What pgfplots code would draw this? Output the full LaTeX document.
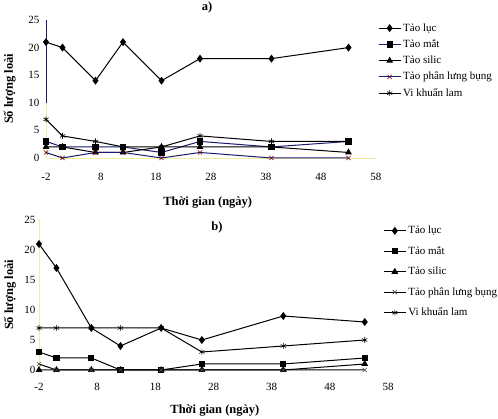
\documentclass[border=0pt]{standalone}
\usepackage{fontspec}
\setmainfont{Liberation Serif}
\usepackage{pgfplots}
\pgfplotsset{compat=1.18}
\usepackage{pgfplotstable}

\definecolor{navy}{HTML}{1A1A6E}
\definecolor{paleyel}{HTML}{F2EBA0}

% days, then number of species per group
\pgfplotstableread{
day  luc mat silic phan lam
-2   21  3   2     1    7
1    20  2   2     0    4
7    14  2   1     1    3
12   21  2   1     1    2
19   14  1   2     0    2
26   18  3   2     1    4
39   18  2   2     0    3
53   20  3   1     0    3
}\dataA

\pgfplotstableread{
day  luc mat silic phan lam
-2   21  3   0     1    7
1    17  2   0     0    7
7    7   2   0     0    7
12   4   0   0     0    7
19   7   0   0     0    7
26   5   1   0     0    3
40   9   1   0     0    4
54   8   2   1     0    5
}\dataB

\pgfplotsset{
  panel/.style={
    scale only axis, anchor=south west, clip=false,
    xmin=-2, xmax=58, ymin=0, ymax=25,
    xtick={-2,8,...,58}, ytick={0,5,...,25},
    axis lines=left, axis line style={-},
    major tick length=0pt,
    font=\fontsize{11}{13}\selectfont,
    /pgf/number format/assume math mode=true,
    ylabel={\textbf{Số lượng loài}},
    xlabel={\textbf{Thời gian (ngày)}},
    label style={font=\bfseries\fontsize{12.5}{14}\selectfont},
    every axis plot/.append style={line width=1pt, black},
    legend cell align=left,
    legend image code/.code={
      \draw[mark repeat=2,mark phase=2,##1] plot coordinates {(0pt,0pt) (11pt,0pt) (22pt,0pt)};},
  },
  mluc/.style={mark=diamond*, mark size=3.2pt},
  mmat/.style={mark=square*, mark size=2.6pt},
  msil/.style={mark=triangle*, mark size=3pt},
  mphan/.style={mark=x, mark size=3pt, mark options={line width=0.6pt}},
  mlam/.style={mark=asterisk, mark size=3pt, mark options={line width=0.6pt}},
}

\begin{document}
\begin{tikzpicture}
\useasboundingbox (0,0) rectangle (498pt,419pt);

% panel a
\begin{axis}[panel,
  at={(46pt,261pt)}, width=330pt, height=138pt,
  x axis line style={paleyel},
  y axis line style={draw=none},
  xticklabel style={yshift=-12pt},
  yticklabel style={xshift=-3pt},
  ylabel style={at={(axis description cs:-0.11,0.5)}, anchor=center},
  xlabel style={at={(axis description cs:0.49,-0.326)}, anchor=center},
  legend style={draw=none, fill=none, at={(axis description cs:1.006,0.99)},
    anchor=north west, inner sep=0pt, row sep=3pt},
]
\draw[paleyel, line width=0.8pt] (axis cs:-2,0) -- (axis cs:-2,10);
\draw[navy, line width=0.8pt] (axis cs:-2,10) -- (axis cs:-2,25);
\addplot[mluc] table[x=day,y=luc] {\dataA};
\addplot[mmat, draw=navy, mark options={fill=black, draw=black}] table[x=day,y=mat] {\dataA};
\addplot[msil] table[x=day,y=silic] {\dataA};
\addplot[mphan, draw=navy, mark options={draw=black!60!red, line width=0.6pt}] table[x=day,y=phan] {\dataA};
\addplot[mlam] table[x=day,y=lam] {\dataA};
\legend{Tảo lục, Tảo mắt, Tảo silic, Tảo phân lưng bụng, Vi khuẩn lam}
\node[font=\bfseries\fontsize{12.5}{14}\selectfont] at (axis description cs:0.488,1.094) {a)};
\end{axis}

% panel b
\begin{axis}[panel,
  at={(39pt,49pt)}, width=349pt, height=150pt,
  x axis line style={draw=none},
  y axis line style={paleyel},
  xticklabel style={yshift=-10pt},
  ylabel style={at={(axis description cs:-0.083,0.5)}, anchor=center},
  xlabel style={at={(axis description cs:0.504,-0.267)}, anchor=center},
  legend style={draw=none, fill=none, at={(axis description cs:0.986,0.973)},
    anchor=north west, inner sep=0pt, row sep=7.2pt},
]
\addplot[mluc] table[x=day,y=luc] {\dataB};
\addplot[mmat] table[x=day,y=mat] {\dataB};
\addplot[msil] table[x=day,y=silic] {\dataB};
\addplot[mphan, mark options={draw=black!70, line width=0.6pt}] table[x=day,y=phan] {\dataB};
\addplot[mlam] table[x=day,y=lam] {\dataB};
\legend{Tảo lục, Tảo mắt, Tảo silic, Tảo phân lưng bụng, Vi khuẩn lam}
\node[font=\bfseries\fontsize{12.5}{14}\selectfont] at (axis description cs:0.51,0.953) {b)};
\end{axis}
\end{tikzpicture}
\end{document}
